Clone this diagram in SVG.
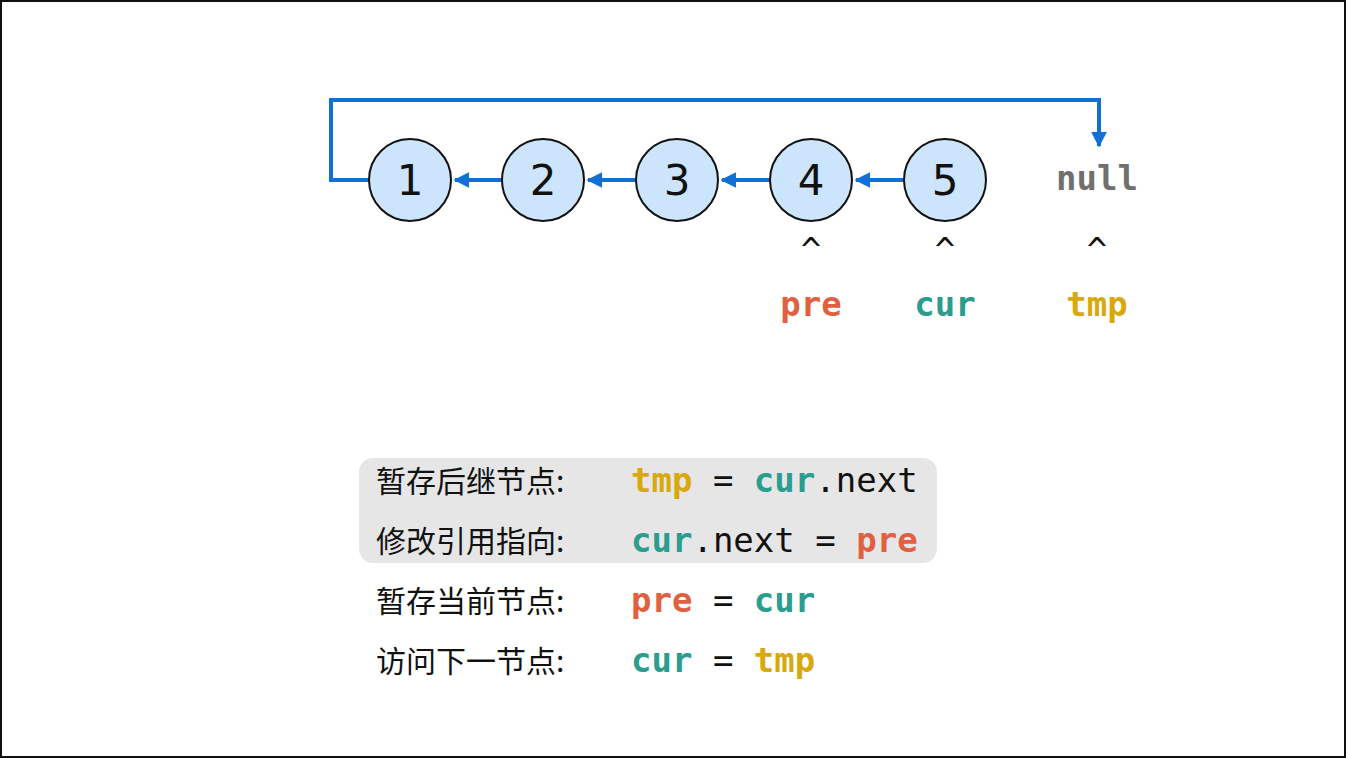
<svg xmlns="http://www.w3.org/2000/svg" width="1346" height="758" viewBox="0 0 1346 758">
<style>
.n{fill:#cce5fc;stroke:#111;stroke-width:2}
.nt{font-family:"DejaVu Sans",sans-serif;font-size:42px;text-anchor:middle;fill:#111}
.c{stroke:#1170d6;stroke-width:4;fill:none}
.m{font-family:"DejaVu Sans Mono","Liberation Mono",monospace;font-size:34px}
.b{font-weight:bold}
.cn{font-family:"Noto Sans CJK SC",sans-serif;font-size:30px;fill:#111}
.pre{fill:#e0603f}.cur{fill:#2a9d8f}.tmp{fill:#d9a80c}.k{fill:#111}
</style>
<defs><marker id="a" viewBox="0 0 10 10" refX="9" refY="5" markerWidth="4" markerHeight="4" orient="auto"><path d="M0,0L10,5L0,10z" fill="#1170d6"/></marker></defs>
<rect x="1" y="1" width="1344" height="756" fill="#fff" stroke="#111" stroke-width="2"/>
<g id="connectors">
<path class="c" d="M369,180H331V100H1099V146" marker-end="url(#a)"/>
<line class="c" x1="502" y1="180" x2="455" y2="180" marker-end="url(#a)"/>
<line class="c" x1="636" y1="180" x2="588" y2="180" marker-end="url(#a)"/>
<line class="c" x1="770" y1="180" x2="722" y2="180" marker-end="url(#a)"/>
<line class="c" x1="904" y1="180" x2="856" y2="180" marker-end="url(#a)"/>
</g>
<g id="n1"><circle class="n" cx="410" cy="180" r="41"/><text class="nt" x="410" y="195">1</text></g>
<g id="n2"><circle class="n" cx="543" cy="180" r="41"/><text class="nt" x="543" y="195">2</text></g>
<g id="n3"><circle class="n" cx="677" cy="180" r="41"/><text class="nt" x="677" y="195">3</text></g>
<g id="n4"><circle class="n" cx="811" cy="180" r="41"/><text class="nt" x="811" y="195">4</text></g>
<g id="n5"><circle class="n" cx="945" cy="180" r="41"/><text class="nt" x="945" y="195">5</text></g>
<g id="null"><text class="m b" x="1097" y="190" text-anchor="middle" fill="#707070" font-size="36">null</text></g>
<g id="pointers" text-anchor="middle">
<text class="m k" x="811" y="262" font-size="28">^</text>
<text class="m k" x="945" y="262" font-size="28">^</text>
<text class="m k" x="1097" y="262" font-size="28">^</text>
<text class="m b pre" x="811" y="316">pre</text>
<text class="m b cur" x="945" y="316">cur</text>
<text class="m b tmp" x="1097" y="316">tmp</text>
</g>
<rect x="359" y="458" width="578" height="105" rx="14" fill="#e6e6e6"/>
<g id="steps">
<text class="cn" x="376" y="492">暂存后继节点:</text>
<text class="m" x="631" y="492"><tspan class="b tmp">tmp</tspan><tspan class="k"> = </tspan><tspan class="b cur">cur</tspan><tspan class="k">.next</tspan></text>
<text class="cn" x="376" y="552">修改引用指向:</text>
<text class="m" x="631" y="552"><tspan class="b cur">cur</tspan><tspan class="k">.next = </tspan><tspan class="b pre">pre</tspan></text>
<text class="cn" x="376" y="612">暂存当前节点:</text>
<text class="m" x="631" y="612"><tspan class="b pre">pre</tspan><tspan class="k"> = </tspan><tspan class="b cur">cur</tspan></text>
<text class="cn" x="376" y="672">访问下一节点:</text>
<text class="m" x="631" y="672"><tspan class="b cur">cur</tspan><tspan class="k"> = </tspan><tspan class="b tmp">tmp</tspan></text>
</g>
</svg>
